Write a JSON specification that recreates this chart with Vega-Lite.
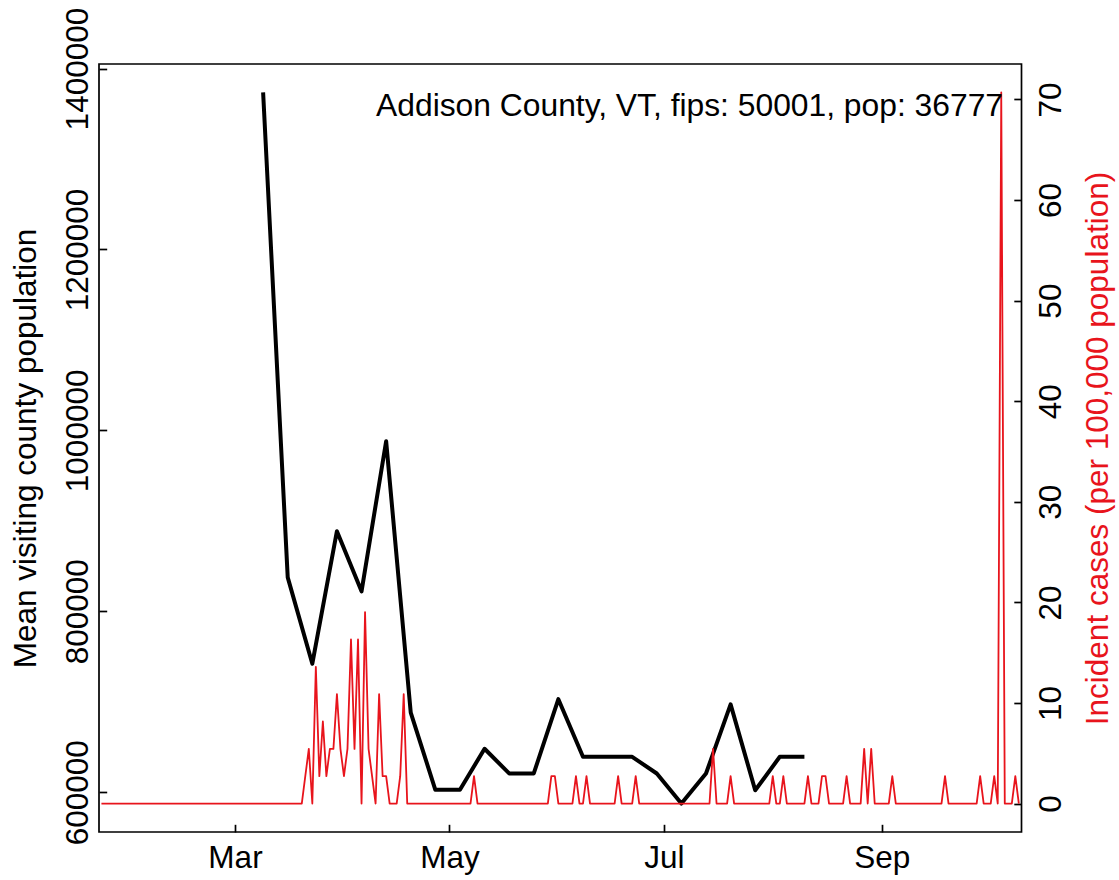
{
  "$schema": "https://vega.github.io/schema/vega-lite/v6.json",
  "autosize": "none",
  "width": 922.5,
  "height": 768,
  "padding": {"left": 99, "top": 64, "right": 97.5, "bottom": 48},
  "background": "white",
  "config": {
    "font": "Liberation Sans",
    "view": {"stroke": "black", "strokeWidth": 1.7},
    "axis": {
      "labelFont": "Liberation Sans",
      "titleFont": "Liberation Sans",
      "labelFontSize": 31.5,
      "titleFontSize": 31.5,
      "titleFontWeight": "normal",
      "labelColor": "black",
      "titleColor": "black",
      "tickColor": "black",
      "tickWidth": 1.7,
      "tickSize": -7.7,
      "grid": false,
      "domain": false,
      "labelFlush": false,
      "labelOverlap": false,
      "labelBound": false
    }
  },
  "datasets": {
    "mobility": [
      {"date": "2020-03-09", "pop": 1373600},
      {"date": "2020-03-16", "pop": 837500},
      {"date": "2020-03-23", "pop": 742000},
      {"date": "2020-03-30", "pop": 888500},
      {"date": "2020-04-06", "pop": 822000},
      {"date": "2020-04-13", "pop": 988000},
      {"date": "2020-04-20", "pop": 688000},
      {"date": "2020-04-27", "pop": 602600},
      {"date": "2020-05-04", "pop": 602600},
      {"date": "2020-05-11", "pop": 648000},
      {"date": "2020-05-18", "pop": 620700},
      {"date": "2020-05-25", "pop": 620700},
      {"date": "2020-06-01", "pop": 702800},
      {"date": "2020-06-08", "pop": 639100},
      {"date": "2020-06-15", "pop": 639100},
      {"date": "2020-06-22", "pop": 639100},
      {"date": "2020-06-29", "pop": 620600},
      {"date": "2020-07-06", "pop": 587400},
      {"date": "2020-07-13", "pop": 620600},
      {"date": "2020-07-20", "pop": 697000},
      {"date": "2020-07-27", "pop": 602100},
      {"date": "2020-08-03", "pop": 639100},
      {"date": "2020-08-10", "pop": 639100}
    ],
    "cases": [
      {"date": "2020-01-23", "inc": 0},
      {"date": "2020-03-20", "inc": 0},
      {"date": "2020-03-21", "inc": 2.719},
      {"date": "2020-03-22", "inc": 5.438},
      {"date": "2020-03-23", "inc": 0},
      {"date": "2020-03-24", "inc": 13.595},
      {"date": "2020-03-25", "inc": 2.719},
      {"date": "2020-03-26", "inc": 8.157},
      {"date": "2020-03-27", "inc": 2.719},
      {"date": "2020-03-28", "inc": 5.438},
      {"date": "2020-03-29", "inc": 5.438},
      {"date": "2020-03-30", "inc": 10.876},
      {"date": "2020-03-31", "inc": 5.438},
      {"date": "2020-04-01", "inc": 2.719},
      {"date": "2020-04-02", "inc": 5.438},
      {"date": "2020-04-03", "inc": 16.315},
      {"date": "2020-04-04", "inc": 5.438},
      {"date": "2020-04-05", "inc": 16.315},
      {"date": "2020-04-06", "inc": 0},
      {"date": "2020-04-07", "inc": 19.034},
      {"date": "2020-04-08", "inc": 5.438},
      {"date": "2020-04-09", "inc": 2.719},
      {"date": "2020-04-10", "inc": 0},
      {"date": "2020-04-11", "inc": 10.876},
      {"date": "2020-04-12", "inc": 2.719},
      {"date": "2020-04-13", "inc": 2.719},
      {"date": "2020-04-14", "inc": 0},
      {"date": "2020-04-15", "inc": 0},
      {"date": "2020-04-16", "inc": 0},
      {"date": "2020-04-17", "inc": 2.719},
      {"date": "2020-04-18", "inc": 10.876},
      {"date": "2020-04-19", "inc": 0},
      {"date": "2020-05-07", "inc": 0},
      {"date": "2020-05-08", "inc": 2.719},
      {"date": "2020-05-09", "inc": 0},
      {"date": "2020-05-29", "inc": 0},
      {"date": "2020-05-30", "inc": 2.719},
      {"date": "2020-05-31", "inc": 2.719},
      {"date": "2020-06-01", "inc": 0},
      {"date": "2020-06-05", "inc": 0},
      {"date": "2020-06-06", "inc": 2.719},
      {"date": "2020-06-07", "inc": 0},
      {"date": "2020-06-08", "inc": 0},
      {"date": "2020-06-09", "inc": 2.719},
      {"date": "2020-06-10", "inc": 0},
      {"date": "2020-06-17", "inc": 0},
      {"date": "2020-06-18", "inc": 2.719},
      {"date": "2020-06-19", "inc": 0},
      {"date": "2020-06-22", "inc": 0},
      {"date": "2020-06-23", "inc": 2.719},
      {"date": "2020-06-24", "inc": 0},
      {"date": "2020-07-14", "inc": 0},
      {"date": "2020-07-15", "inc": 5.438},
      {"date": "2020-07-16", "inc": 0},
      {"date": "2020-07-19", "inc": 0},
      {"date": "2020-07-20", "inc": 2.719},
      {"date": "2020-07-21", "inc": 0},
      {"date": "2020-07-31", "inc": 0},
      {"date": "2020-08-01", "inc": 2.719},
      {"date": "2020-08-02", "inc": 0},
      {"date": "2020-08-03", "inc": 0},
      {"date": "2020-08-04", "inc": 2.719},
      {"date": "2020-08-05", "inc": 0},
      {"date": "2020-08-10", "inc": 0},
      {"date": "2020-08-11", "inc": 2.719},
      {"date": "2020-08-12", "inc": 0},
      {"date": "2020-08-14", "inc": 0},
      {"date": "2020-08-15", "inc": 2.719},
      {"date": "2020-08-16", "inc": 2.719},
      {"date": "2020-08-17", "inc": 0},
      {"date": "2020-08-21", "inc": 0},
      {"date": "2020-08-22", "inc": 2.719},
      {"date": "2020-08-23", "inc": 0},
      {"date": "2020-08-26", "inc": 0},
      {"date": "2020-08-27", "inc": 5.438},
      {"date": "2020-08-28", "inc": 0},
      {"date": "2020-08-29", "inc": 5.438},
      {"date": "2020-08-30", "inc": 0},
      {"date": "2020-09-03", "inc": 0},
      {"date": "2020-09-04", "inc": 2.719},
      {"date": "2020-09-05", "inc": 0},
      {"date": "2020-09-18", "inc": 0},
      {"date": "2020-09-19", "inc": 2.719},
      {"date": "2020-09-20", "inc": 0},
      {"date": "2020-09-28", "inc": 0},
      {"date": "2020-09-29", "inc": 2.719},
      {"date": "2020-09-30", "inc": 0},
      {"date": "2020-10-02", "inc": 0},
      {"date": "2020-10-03", "inc": 2.719},
      {"date": "2020-10-04", "inc": 0},
      {"date": "2020-10-05", "inc": 70.696},
      {"date": "2020-10-06", "inc": 0},
      {"date": "2020-10-08", "inc": 0},
      {"date": "2020-10-09", "inc": 2.719},
      {"date": "2020-10-10", "inc": 0}
    ],
    "label": [
      {"date": "2020-10-05T12:00:00Z", "pos": 1348100, "text": "Addison County, VT, fips: 50001, pop: 36777"}
    ]
  },
  "encoding": {
    "x": {
      "field": "date", "type": "temporal",
      "scale": {"type": "utc", "domain": [
        {"year": 2020, "month": 1, "date": 22, "hours": 7, "minutes": 26, "utc": true},
        {"year": 2020, "month": 10, "date": 10, "hours": 18, "minutes": 14, "utc": true}
      ]},
      "axis": {
        "orient": "bottom",
        "title": null,
        "values": [
          {"year": 2020, "month": 3, "date": 1, "utc": true},
          {"year": 2020, "month": 5, "date": 1, "utc": true},
          {"year": 2020, "month": 7, "date": 1, "utc": true},
          {"year": 2020, "month": 9, "date": 1, "utc": true}
        ],
        "labelExpr": "utcFormat(datum.value, '%b')",
        "labelAngle": 0,
        "labelAlign": "center",
        "labelBaseline": "alphabetic",
        "labelPadding": 42.7
      }
    }
  },
  "layer": [
    {
      "data": {"name": "mobility"},
      "mark": {"type": "line", "color": "black", "strokeWidth": 4, "strokeJoin": "round", "strokeCap": "butt", "clip": true},
      "encoding": {
        "y": {
          "field": "pop", "type": "quantitative",
          "scale": {"domain": [555952, 1405048], "nice": false, "zero": false},
          "axis": {
            "orient": "left",
            "values": [600000, 800000, 1000000, 1200000, 1400000],
            "format": "d",
            "labelAngle": -90,
            "labelAlign": "center",
            "labelBaseline": "alphabetic",
            "labelPadding": 19.7,
            "title": "Mean visiting county population",
            "titleAngle": -90,
            "titleAlign": "center",
            "titleBaseline": "alphabetic",
            "titleX": -64,
            "titleY": 384
          }
        }
      }
    },
    {
      "data": {"name": "cases"},
      "mark": {"type": "line", "color": "#e8141c", "strokeWidth": 1.8, "strokeJoin": "round", "clip": true},
      "encoding": {
        "y": {
          "field": "inc", "type": "quantitative",
          "scale": {"domain": [-2.8278, 73.5238], "nice": false, "zero": false},
          "axis": {
            "orient": "right",
            "values": [0, 10, 20, 30, 40, 50, 60, 70],
            "format": "d",
            "labelAngle": -90,
            "labelAlign": "center",
            "labelBaseline": "alphabetic",
            "labelPadding": 46.2,
            "title": "Incident cases (per 100,000 population)",
            "titleColor": "#e8141c",
            "titleAngle": -90,
            "titleAlign": "center",
            "titleBaseline": "alphabetic",
            "titleX": 86,
            "titleY": 384
          }
        }
      }
    },
    {
      "data": {"name": "label"},
      "mark": {"type": "text", "align": "right", "baseline": "alphabetic", "fontSize": 31.8, "font": "Liberation Sans", "color": "black"},
      "encoding": {
        "y": {
          "field": "pos", "type": "quantitative",
          "scale": {"domain": [555952, 1405048], "nice": false, "zero": false},
          "axis": null
        },
        "text": {"field": "text"}
      }
    }
  ],
  "resolve": {"scale": {"y": "independent"}}
}
